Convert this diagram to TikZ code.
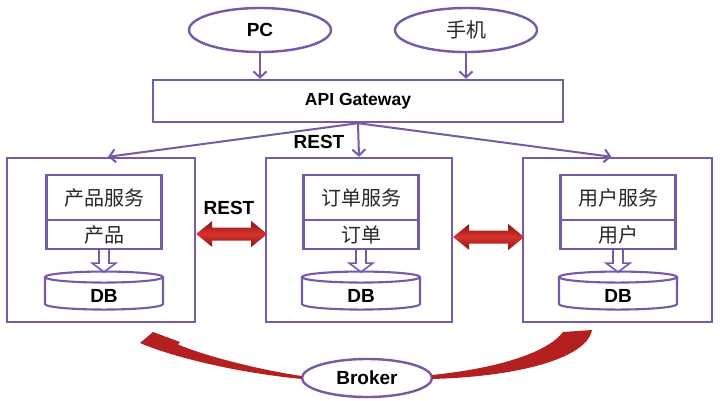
\documentclass[tikz,border=0pt]{standalone}
\usepackage{fontspec}
\setmainfont{Liberation Sans}
\newfontfamily\cjk{Noto Sans CJK SC}
\usetikzlibrary{arrows.meta,shapes.geometric,calc}
\definecolor{pur}{RGB}{118,90,170}
\definecolor{rd}{RGB}{180,32,32}
\definecolor{rddark}{RGB}{140,20,20}
\definecolor{rdlight}{RGB}{215,50,45}
\definecolor{txt}{RGB}{40,40,40}
\begin{document}
\begin{tikzpicture}[x=1pt,y=-1pt,
  pline/.style={draw=pur,line width=2.4pt},
  ibox/.style={draw=pur,line width=2.1pt,rectangle,minimum width=115,inner sep=0pt},
  lbl/.style={font=\fontsize{19}{19}\selectfont\bfseries,text=black},
  cn/.style={font=\cjk\fontsize{20}{20}\selectfont,text=txt},
  conn/.style={draw=pur,line width=2pt,-{Straight Barb[length=6pt,width=13pt,line width=2pt]}},
  harrow/.style={draw=pur,fill=white,line width=1.6pt},
  dbline/.style={draw=pur,line width=2.1pt},
  redarr/.style={top color=rddark,bottom color=rddark,middle color=rdlight},
  redcurve/.style={fill=rd}
]
\useasboundingbox (0,0) rectangle (720,400);
\fill[white] (0,0) rectangle (720,400);

% clients
\node[ellipse, pline, minimum width=142, minimum height=44, inner sep=1pt, lbl] (pc) at (260,30) {PC};
\node[ellipse, pline, minimum width=142, minimum height=44, inner sep=1pt, cn] (mob) at (466,30) {手机};

% gateway
\node[rectangle, pline, minimum width=410, minimum height=42, lbl, font=\fontsize{17.5}{17.5}\selectfont\bfseries] (gw) at (358,101) {API Gateway};

\draw[conn] (pc.south) -- (pc.south |- gw.north);
\draw[conn] (mob.south) -- (mob.south |- gw.north);

% outer service boxes
\node[rectangle, pline, minimum width=188, minimum height=164] (o1) at (101,240) {};
\node[rectangle, pline, minimum width=186, minimum height=164] (o2) at (359,240) {};
\node[rectangle, pline, minimum width=189, minimum height=164] (o3) at (617.5,240) {};

\draw[conn] (gw.south) -- ([xshift=7pt]o1.north);
\draw[conn] (gw.south) -- (o2.north);
\draw[conn] (gw.south) -- ([xshift=-6pt]o3.north);
\node[lbl] (rest1) at (319,142) {REST};

% inner boxes
\node[ibox, minimum height=45, cn] (s1) at (104,197.5) {产品服务};
\node[ibox, minimum height=29, cn] (t1) at (104,234.5) {产品};
\node[ibox, minimum height=45, cn] (s2) at (361,197.5) {订单服务};
\node[ibox, minimum height=29, cn] (t2) at (361,234.5) {订单};
\node[ibox, minimum height=45, cn] (s3) at (618,197.5) {用户服务};
\node[ibox, minimum height=29, cn] (t3) at (618,234.5) {用户};

% hollow arrows and DB cylinders
\foreach \t/\d in {t1/db1,t2/db2,t3/db3}{
  \filldraw[harrow, shift={(\t.south)}] (-5,0) -- (-5,13) -- (-12,13) -- (0,22) -- (12,13) -- (5,13) -- (5,0);
  \draw[dbline, shift={(\t.south)}] (0,27) ellipse [x radius=59, y radius=5.5];
  \draw[dbline, shift={(\t.south)}] (-59,27) -- (-59,54) arc[start angle=180, end angle=0, x radius=59, y radius=5.5] -- (59,27);
  \node[lbl] (\d) at ([yshift=-46pt]\t.south) {DB};
}

% red double arrows
\shade[redarr, shift={(o1.east)}] (0,-6) -- (16,-19) -- (16,-12.5) -- (55,-12.5) -- (55,-19) -- (71,-6) -- (55,7) -- (55,0.5) -- (16,0.5) -- (16,7) -- cycle;
\shade[redarr, shift={(o2.east)}] (0,-3) -- (16,-16) -- (16,-9.5) -- (55,-9.5) -- (55,-16) -- (71,-3) -- (55,10) -- (55,3.5) -- (16,3.5) -- (16,10) -- cycle;
\node[lbl] (rest2) at (229,208) {REST};

% broker
\node[ellipse, pline, minimum width=130, minimum height=38, inner sep=1pt, lbl] (br) at (367,378) {Broker};

\fill[redcurve] ($(br.west)+(1,-2)$) .. controls (260,370) and (205,356) .. (178,344.5) -- (180,342) -- (153,332) -- (140,343) .. controls (175,358) and (240,373) .. ($(br.west)+(1,1)$) -- cycle;
\fill[redcurve] ($(br.east)+(-1,-3)$) .. controls (500,368) and (548,352) .. (563,332) -- (592,330) .. controls (588,355) and (530,376) .. ($(br.east)+(-1,1)$) -- cycle;
\end{tikzpicture}
\end{document}
